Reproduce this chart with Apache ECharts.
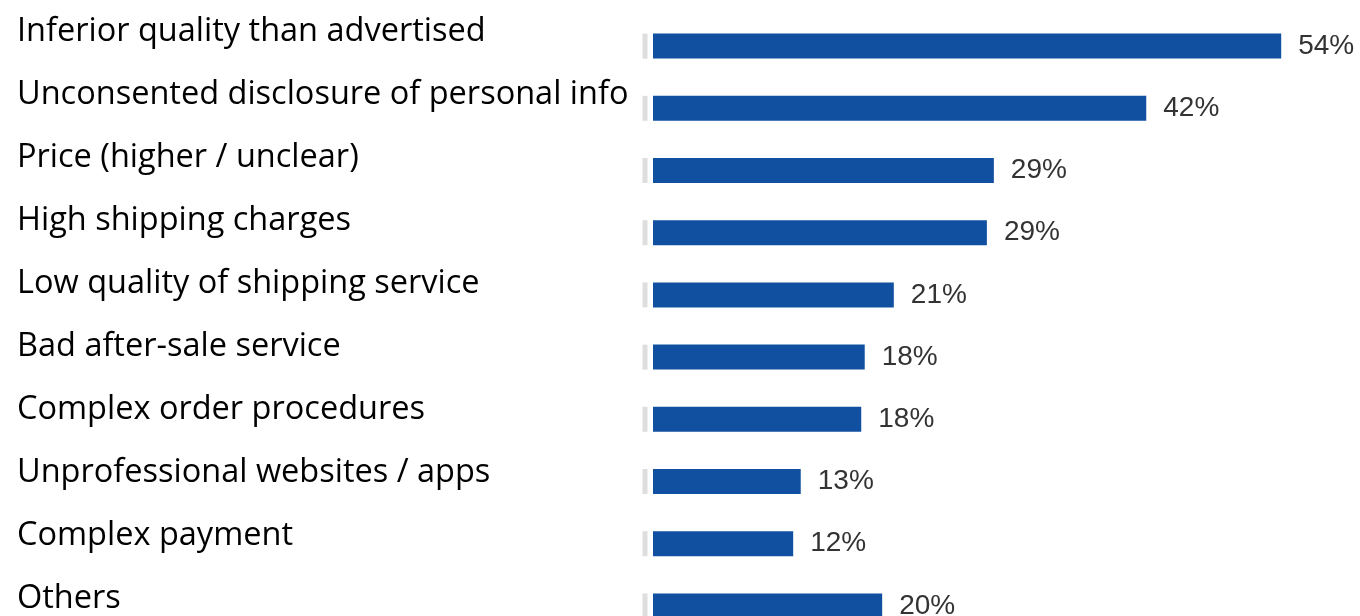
<!DOCTYPE html>
<html><head><meta charset="utf-8">
<script src="https://cdn.jsdelivr.net/npm/echarts@6/dist/echarts.min.js"></script>
<style>html,body{margin:0;padding:0;background:#fff;overflow:hidden}#c{width:1360px;height:700px}</style>
</head><body><div id="c"></div>
<script>
const categories = ["Inferior quality than advertised","Unconsented disclosure of personal info","Price (higher / unclear)","High shipping charges","Low quality of shipping service","Bad after-sale service","Complex order procedures","Unprofessional websites / apps","Complex payment","Others"];
const values = [54,42.4,29.3,28.7,20.7,18.2,17.9,12.7,12.05,19.7];
const baseMarks = [0,0,0,0,0,0,0,0,0,0];

const chart = echarts.init(document.getElementById('c'));
chart.setOption({
  animation:false,
  grid:[
    {left:17, top:-10, width:10, height:640},
    {left:653, top:15, right:9, height:622}
  ],
  xAxis:[
    {gridIndex:0, type:'value', show:false},
    {gridIndex:1, type:'value', min:0, max:60, show:false}
  ],
  yAxis:[
    {gridIndex:0, type:'category', data:categories, inverse:true,
     axisLine:{show:false}, axisTick:{show:false},
     axisLabel:{align:'left', margin:0, color:'#000', fontSize:32.5, fontFamily:'Open Sans'}},
    {gridIndex:1, type:'category', data:categories, inverse:true, show:false}
  ],
  series:[
    {type:'bar', xAxisIndex:1, yAxisIndex:1, data:values, barWidth:25,
     itemStyle:{color:'#1150a0'},
     label:{show:true, position:'right', distance:17, formatter:p=>Math.round(p.value)+'%', color:'#333', fontSize:28, fontFamily:'Liberation Sans'}},
    {type:'scatter', xAxisIndex:1, yAxisIndex:1, data:baseMarks, symbol:'rect', symbolSize:[5,25], symbolOffset:[-8,0],
     itemStyle:{color:'#d6d6d6'}, silent:true}
  ]
});
</script></body></html>
